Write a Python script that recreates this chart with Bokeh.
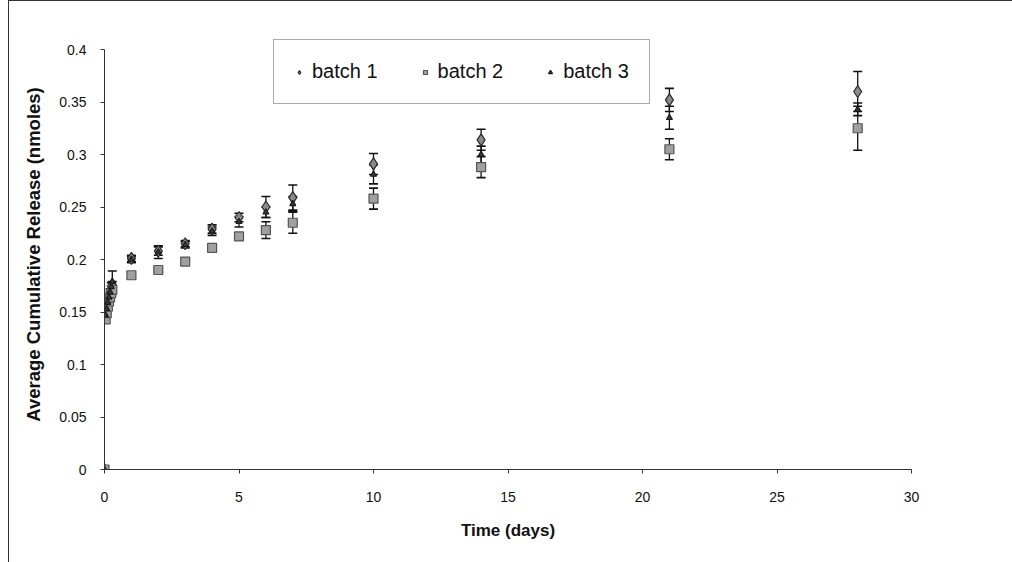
from bokeh.plotting import figure
from bokeh.models import Whisker, ColumnDataSource, Legend, LegendItem, FixedTicker, CustomJSTickFormatter
from bokeh.embed import file_html
from bokeh.resources import INLINE

# ---- data (days, nmoles) ----
early_days = [0.0, 0.042, 0.083, 0.125, 0.167, 0.208, 0.25, 0.29]
main_days = [1, 2, 3, 4, 5, 6, 7, 10, 14, 21, 28]

b1_early = [0.0, 0.146, 0.152, 0.158, 0.163, 0.168, 0.172, 0.176]
b2_early = [0.0, 0.143, 0.149, 0.155, 0.160, 0.164, 0.168, 0.171]
b3_early = [0.0, 0.147, 0.153, 0.159, 0.164, 0.169, 0.174, 0.179]
b1_early_err = [0.0, 0.002, 0.002, 0.002, 0.002, 0.002, 0.003, 0.003]
b2_early_err = [0.0, 0.002, 0.002, 0.002, 0.002, 0.002, 0.003, 0.003]
b3_early_err = [0.0, 0.002, 0.002, 0.002, 0.003, 0.003, 0.004, 0.010]

b1_main = [0.201, 0.208, 0.215, 0.229, 0.240, 0.250, 0.259, 0.291, 0.314, 0.352, 0.360]
b2_main = [0.185, 0.190, 0.198, 0.211, 0.222, 0.228, 0.235, 0.258, 0.288, 0.305, 0.325]
b3_main = [0.200, 0.207, 0.214, 0.227, 0.236, 0.245, 0.253, 0.281, 0.300, 0.335, 0.343]
b1_err = [0.003, 0.004, 0.003, 0.004, 0.004, 0.010, 0.012, 0.010, 0.010, 0.011, 0.019]
b2_err = [0.003, 0.002, 0.003, 0.003, 0.003, 0.008, 0.010, 0.010, 0.010, 0.010, 0.021]
b3_err = [0.003, 0.006, 0.003, 0.004, 0.005, 0.005, 0.007, 0.009, 0.008, 0.011, 0.006]

x_ticks = [0, 5, 10, 15, 20, 25, 30]
y_ticks = [0, 0.05, 0.1, 0.15, 0.2, 0.25, 0.3, 0.35, 0.4]

series = [
    ("batch 1", b1_early + b1_main, b1_early_err + b1_err, "diamond", 12, "#8a8a8a", "#2a2a2a"),
    ("batch 2", b2_early + b2_main, b2_early_err + b2_err, "square", 9, "#a0a0a0", "#555555"),
    ("batch 3", b3_early + b3_main, b3_early_err + b3_err, "triangle", 6, "#3a3a3a", "#1a1a1a"),
]
days = early_days + main_days

FONT = "Liberation Sans"

# frame top extended a little above 0.4 so the legend box is not clipped;
# the y axis itself is bounded to 0..0.4
p = figure(width=1004, height=562, output_backend="svg", toolbar_location=None,
           x_range=(0, 30), y_range=(0, 0.4 + 10 / 1050),
           min_border_left=95, min_border_right=102, min_border_top=38, min_border_bottom=94)
p.styles = {"margin-left": "8px", "border-left": "1px solid #333", "border-top": "1px solid #333",
            "box-sizing": "border-box"}
p.outline_line_color = None
p.xgrid.visible = False
p.ygrid.visible = False
p.background_fill_color = "white"
p.border_fill_color = "white"
p.yaxis.bounds = (0, 0.4)

for ax in (p.xaxis[0], p.yaxis[0]):
    ax.axis_line_color = "#333333"
    ax.axis_line_width = 1
    ax.major_tick_line_color = "#333333"
    ax.major_tick_in = 0
    ax.major_tick_out = 4
    ax.minor_tick_line_color = None
    ax.major_label_text_font = FONT
    ax.major_label_text_font_size = "14px"
    ax.major_label_text_color = "#111111"
    ax.axis_label_text_font = FONT
    ax.axis_label_text_font_style = "bold"
    ax.axis_label_text_color = "#111111"

p.xaxis.ticker = FixedTicker(ticks=x_ticks)
p.yaxis.ticker = FixedTicker(ticks=y_ticks)
p.yaxis.formatter = CustomJSTickFormatter(code="return String(parseFloat(tick.toFixed(2)));")
p.xaxis.axis_label = "Time (days)"
p.yaxis.axis_label = "Average Cumulative Release (nmoles)"
p.xaxis.axis_label_text_font_size = "17px"
p.yaxis.axis_label_text_font_size = "18.5px"
p.xaxis.major_label_standoff = 18
p.yaxis.major_label_standoff = 14
p.xaxis.axis_label_standoff = 16
p.yaxis.axis_label_standoff = 12

items = []
for name, vals, errs, marker, size, fill, line in series:
    upper = [v + e for v, e in zip(vals, errs)]
    lower = [v - e for v, e in zip(vals, errs)]
    src = ColumnDataSource(dict(x=days, y=vals, upper=upper, lower=lower))
    w = Whisker(source=src, base="x", upper="upper", lower="lower",
                line_color="#111111", line_width=1.3)
    for h in (w.upper_head, w.lower_head):
        h.size = 9
        h.line_color = "#111111"
        h.line_width = 1.6
    p.add_layout(w)
    r = p.scatter("x", "y", source=src, marker=marker, size=size,
                  fill_color=fill, line_color=line, line_width=1.2)
    items.append(LegendItem(label=name, renderers=[r]))

legend = Legend(items=items, orientation="horizontal", location=(169, 365),
                label_text_font=FONT, label_text_font_size="20px", label_text_color="#111111",
                border_line_color="#555555", border_line_width=1,
                background_fill_color="white", background_fill_alpha=1,
                glyph_width=10, glyph_height=12, spacing=42, padding=20, margin=0,
                label_standoff=8)
p.add_layout(legend, "center")

open("out.html", "w").write(file_html(p, INLINE))
